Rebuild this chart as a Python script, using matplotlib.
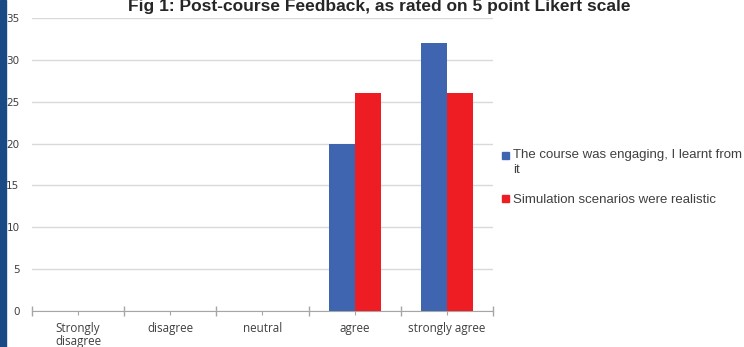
import matplotlib
matplotlib.use('Agg')
import matplotlib.pyplot as plt
from matplotlib.patches import Rectangle
import numpy as np

categories = ["Strongly\ndisagree", "disagree", "neutral", "agree", "strongly agree"]
engaging = [0, 0, 0, 20, 32]
realistic = [0, 0, 0, 26, 26]
series_names = ["The course was engaging, I learnt from\nit", "Simulation scenarios were realistic"]
yticks = [0, 5, 10, 15, 20, 25, 30, 35]

blue = '#3F65B0'
red = '#EE1D24'

fig = plt.figure(figsize=(7.44, 3.47), dpi=100)
ax = fig.add_axes([0.043, 0.1037, 0.6196, 0.8444])

x = np.arange(len(categories))
w = 0.283
ax.bar(x - w / 2, engaging, w, color=blue, zorder=3)
ax.bar(x + w / 2, realistic, w, color=red, zorder=3)

ax.set_xlim(-0.5, len(categories) - 0.5)
ax.set_ylim(0, 35)
ax.set_yticks(yticks)
ax.yaxis.grid(True, color='#D9D9D9', linewidth=1, zorder=0)
for s in ['top', 'right', 'left']:
    ax.spines[s].set_visible(False)
ax.spines['bottom'].set_color('#A6A6A6')
ax.tick_params(axis='y', length=0, labelsize=7.5, labelcolor='#404040', pad=9)

# category labels at centres, tick marks at the boundaries
ax.set_xticks(x)
ax.set_xticklabels(categories, fontsize=8.4, color='#404040', family='Open Sans', va='top')
ax.tick_params(axis='x', which='major', length=3, color='#A6A6A6', pad=5)
ax.set_xticks(np.arange(-0.5, len(categories)), minor=True)
ax.tick_params(axis='x', which='minor', length=7, color='#A6A6A6', direction='inout', width=1)
for t in ax.get_xticklabels():
    t.set_linespacing(0.95)

# title right at the top edge, above the 35 gridline
fig.text(379 / 744, 1 - 11.5 / 347, "Fig 1: Post-course Feedback, as rated on 5 point Likert scale",
         ha='center', va='baseline', fontsize=12.5, fontweight='bold', family='Liberation Sans',
         color='#262626')

# legend
fig.patches.append(Rectangle((502 / 744, 1 - 159.5 / 347), 7 / 744, 7 / 347,
                             transform=fig.transFigure, color=blue))
fig.text(513 / 744, 1 - 149 / 347, series_names[0], fontsize=9.5, family='Liberation Sans',
         color='#404040', va='top', linespacing=1.35, ha='left', multialignment='left')
fig.patches.append(Rectangle((502 / 744, 1 - 201.5 / 347), 7 / 744, 7 / 347,
                             transform=fig.transFigure, color=red))
fig.text(513 / 744, 1 - 203 / 347, series_names[1], fontsize=9.5, family='Liberation Sans',
         color='#404040', va='baseline', ha='left')

# dark strip on the left edge
fig.patches.append(Rectangle((0, 0), 6 / 744, 1, transform=fig.transFigure, color='#1A4A86'))

fig.savefig('out.png', dpi=100)
